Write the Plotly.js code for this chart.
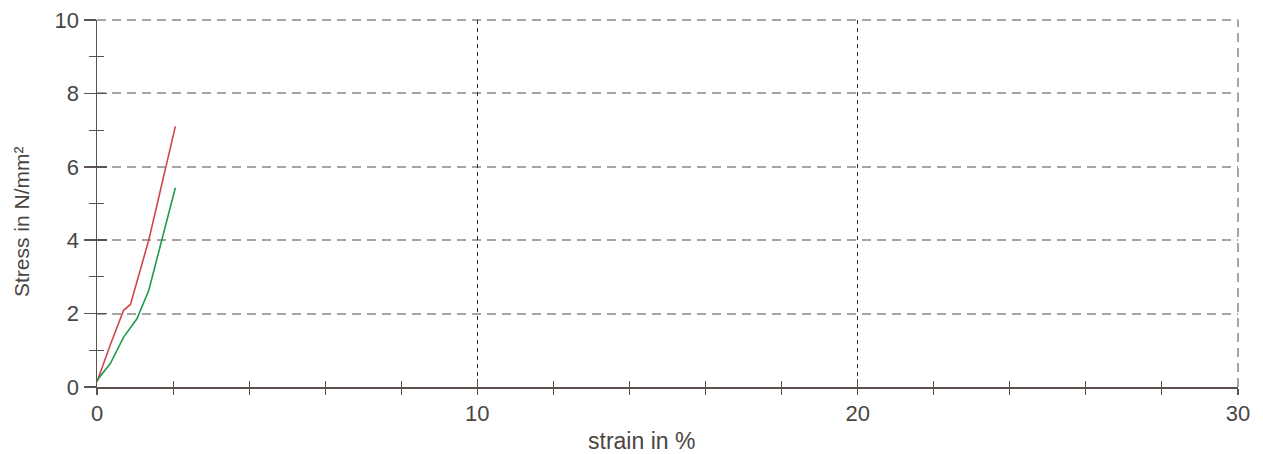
<!DOCTYPE html>
<html>
<head>
<meta charset="utf-8">
<script src="https://cdn.plot.ly/plotly-3.0.1.min.js"></script>
<style>html,body{margin:0;padding:0;background:#fff;}#chart{width:1263px;height:454px;}</style>
</head>
<body>
<div id="chart"></div>
<script>
// Data
const redStrain   = [0, 0.35, 0.70, 0.88, 1.36, 1.80, 2.06];
const redStress   = [0.14, 1.15, 2.09, 2.25, 4.0, 6.0, 7.1];
const greenStrain = [0, 0.35, 0.70, 1.05, 1.36, 1.71, 2.06];
const greenStress = [0.18, 0.64, 1.36, 1.86, 2.63, 4.0, 5.43];
const xGridTicks  = [10, 20];
const xTitle = 'strain in %';
const yTitle = 'Stress in N/mm²';

const axisColor = '#5c524e';
const textColor = '#4a4543';
const fam = 'Liberation Sans, Arial, sans-serif';
const tickFont = {family: fam, size: 22, color: textColor};

const traces = [
  {x: redStrain, y: redStress, mode: 'lines', line: {color: '#d0474a', width: 1.6}, hoverinfo: 'skip'},
  {x: greenStrain, y: greenStress, mode: 'lines', line: {color: '#1f9a4e', width: 1.6}, hoverinfo: 'skip'},
  // invisible helpers that activate the overlay axes
  {x: [0], y: [0], xaxis: 'x2', yaxis: 'y2', mode: 'markers', marker: {opacity: 0}, hoverinfo: 'skip'},
  {x: [0], y: [0], xaxis: 'x3', yaxis: 'y', mode: 'markers', marker: {opacity: 0}, hoverinfo: 'skip'}
];

const layout = {
  width: 1263, height: 454,
  margin: {l: 97, r: 25, t: 20, b: 67},
  paper_bgcolor: '#fff', plot_bgcolor: '#fff',
  showlegend: false,
  font: {family: fam, size: 16, color: textColor},
  xaxis: {
    range: [0, 30], tickmode: 'linear', tick0: 0, dtick: 10, showgrid: false, zeroline: false,
    showline: true, linecolor: axisColor, linewidth: 1.5, automargin: false,
    ticks: 'outside', ticklen: 6, tickwidth: 1.5, tickcolor: axisColor,
    minor: {tickmode: 'linear', dtick: 2, ticks: 'outside', ticklen: 6, tickwidth: 1, tickcolor: axisColor, showgrid: false},
    tickfont: tickFont
  },
  xaxis2: {
    range: [0, 30], overlaying: 'x', anchor: 'y', side: 'bottom', automargin: false,
    tickmode: 'linear', tick0: 0, dtick: 10, showticklabels: false, showgrid: false, zeroline: false, showline: false,
    ticks: 'inside', ticklen: 8, tickwidth: 1.5, tickcolor: axisColor,
    minor: {tickmode: 'linear', dtick: 2, ticks: 'inside', ticklen: 6, tickwidth: 1, tickcolor: axisColor, showgrid: false}
  },
  xaxis3: {
    range: [0, 30], overlaying: 'x', anchor: 'y', side: 'bottom', automargin: false,
    tickmode: 'array', tickvals: xGridTicks, showticklabels: false, ticks: '', zeroline: false, showline: false,
    showgrid: true, gridcolor: '#2e2a28', gridwidth: 1, griddash: '4px,4px'
  },
  yaxis: {
    range: [0, 10], tickmode: 'linear', tick0: 0, dtick: 2, zeroline: false, automargin: false,
    showgrid: true, gridcolor: '#a8a4a2', gridwidth: 2, griddash: '9px,6px',
    showline: true, linecolor: axisColor, linewidth: 1.5,
    ticks: 'outside', ticklen: 12, tickwidth: 1.5, tickcolor: axisColor,
    minor: {tickmode: 'linear', dtick: 1, ticks: 'outside', ticklen: 7, tickwidth: 1, tickcolor: axisColor, showgrid: false},
    tickfont: tickFont
  },
  yaxis2: {
    range: [0, 10], overlaying: 'y', anchor: 'x', side: 'left', automargin: false,
    tickmode: 'linear', tick0: 0, dtick: 2, showticklabels: false, showgrid: false, zeroline: false, showline: false,
    ticks: 'inside', ticklen: 10, tickwidth: 1.5, tickcolor: axisColor,
    minor: {tickmode: 'linear', dtick: 1, ticks: 'inside', ticklen: 7, tickwidth: 1, tickcolor: axisColor, showgrid: false}
  },
  annotations: [
    {text: xTitle, xref: 'paper', yref: 'paper', x: 0.4768, y: -0.147, xanchor: 'center', yanchor: 'middle',
     showarrow: false, font: {family: fam, size: 23, color: textColor}},
    {text: yTitle, xref: 'paper', yref: 'paper', x: -0.0657, y: 0.4496, xanchor: 'center', yanchor: 'middle',
     textangle: -90, showarrow: false, font: {family: fam, size: 21, color: textColor}}
  ],
  shapes: [
    {type: 'line', xref: 'paper', yref: 'paper', x0: 1, x1: 1, y0: 0, y1: 1,
     line: {color: '#a8a4a2', width: 2, dash: '9px,6px'}, layer: 'below'},
    {type: 'line', xref: 'paper', yref: 'paper', x0: 0, x1: 1, y0: 1, y1: 1,
     line: {color: '#a8a4a2', width: 2, dash: '9px,6px'}, layer: 'below'}
  ]
};

Plotly.newPlot('chart', traces, layout, {staticPlot: true, displayModeBar: false});
</script>
</body>
</html>
